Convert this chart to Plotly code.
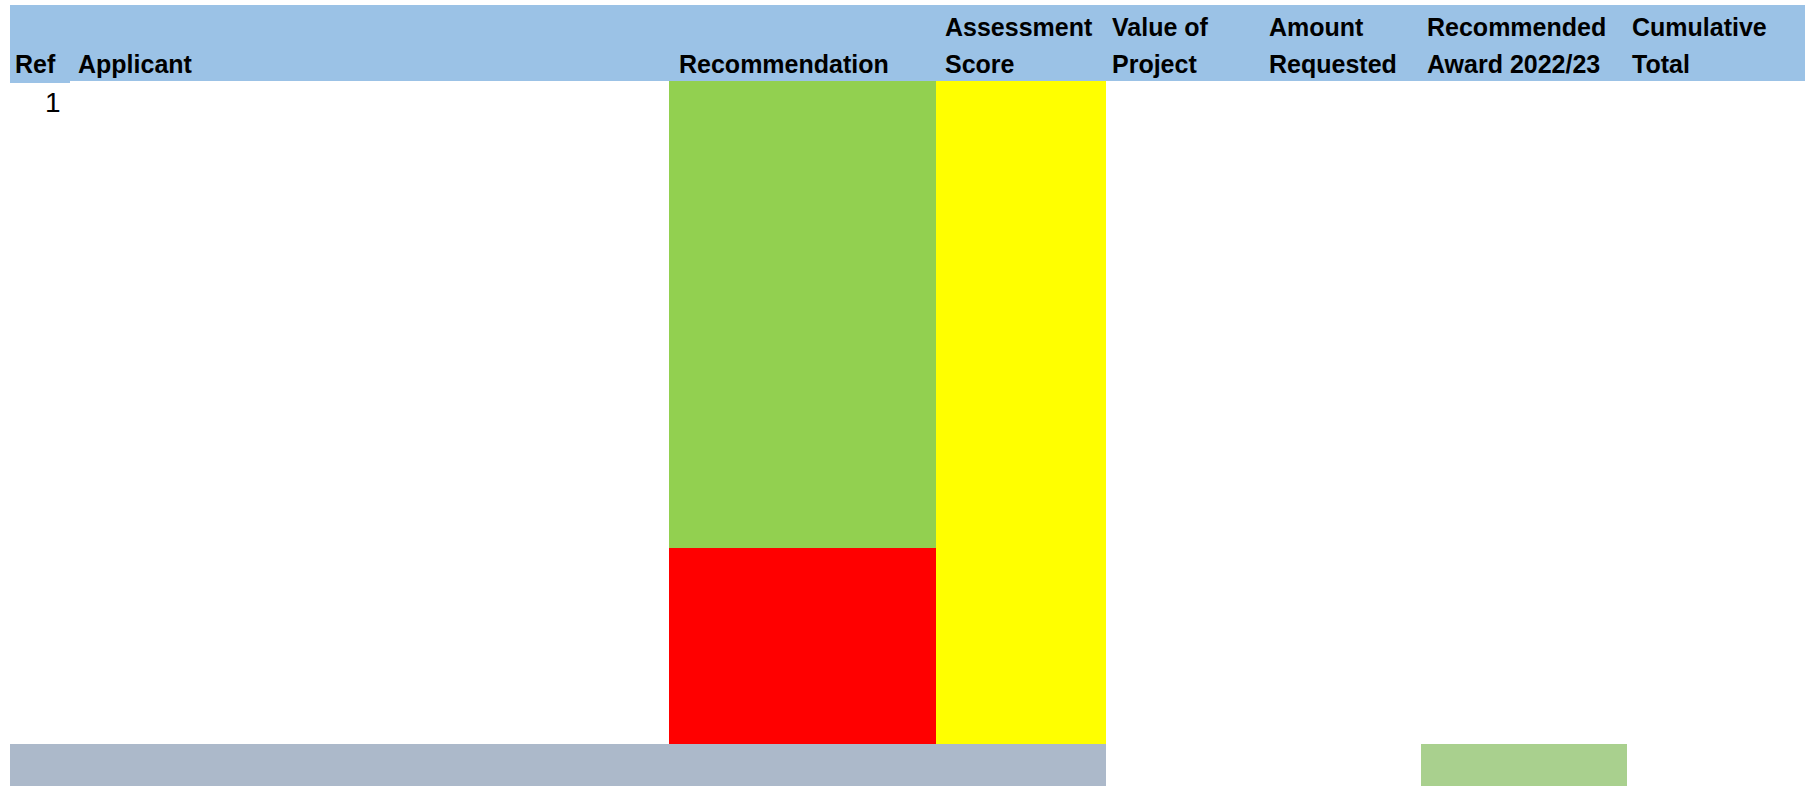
import plotly.graph_objects as go

# ---------------- data ----------------
header_line1 = ["", "", "", "Assessment", "Value of", "Amount", "Recommended", "Cumulative"]
header_line2 = ["Ref", "Applicant", "Recommendation", "Score", "Project", "Requested", "Award 2022/23", "Total"]
ref_values = ["1"]
recommendation_cells = ["Recommended", "Not recommended"]
recommendation_colors = {"Recommended": "#92D050", "Not recommended": "#FF0000"}
score_cells = ["Score"]
total_row_cells = ["Total label", "Award total"]

# ---------------- layout (pixel geometry) ----------------
W, H = 1805, 786
text_x = [14, 77, 678, 944, 1111, 1268, 1426, 1631]
col_edges = [10, 70, 669, 936, 1106, 1262, 1421, 1627, 1805]
header_top, header_bottom = 5, 81
row_edges = [81, 548, 744]           # recommendation sub-rows
total_top, total_bottom = 744, 786
base1, base2 = 36, 73
FS = 25

HEADER_BLUE = "#9BC2E6"
shapes = []
def rect(x0, x1, y0, y1, color):
    shapes.append(dict(type="rect", xref="x", yref="y", x0=x0, x1=x1, y0=y0, y1=y1,
                       fillcolor=color, line=dict(width=0), layer="below"))

# header band
rect(col_edges[0], col_edges[-1], header_top, header_bottom, HEADER_BLUE)
rect(col_edges[0], col_edges[1], header_bottom - 1, header_bottom + 2, HEADER_BLUE)

# recommendation column cells
for i, status in enumerate(recommendation_cells):
    rect(col_edges[2], col_edges[3], row_edges[i], row_edges[i + 1], recommendation_colors[status])
# score column
for s in score_cells:
    rect(col_edges[3], col_edges[4], row_edges[0], row_edges[-1], "#FFFF00")
# total row
rect(col_edges[0], col_edges[4], total_top, total_bottom, "#ACB9CA")
rect(col_edges[6], col_edges[7], total_top, total_bottom, "#A9D08E")

annotations = []
font = dict(family="Liberation Sans, Arial, sans-serif", size=FS, color="#000000")
desc = 0.23 * FS
for i in range(len(header_line2)):
    for txt, base in ((header_line1[i], base1), (header_line2[i], base2)):
        if txt:
            annotations.append(dict(x=text_x[i], y=base + desc, xref="x", yref="y",
                                    text="<b>%s</b>" % txt, showarrow=False,
                                    xanchor="left", yanchor="bottom", font=font,
                                    borderpad=0))
RFS = 28
for r in ref_values:
    annotations.append(dict(x=62, y=113 + 0.23 * RFS, xref="x", yref="y", text=r,
                            showarrow=False, xanchor="right", yanchor="bottom",
                            borderpad=0,
                            font=dict(family="Liberation Sans, Arial, sans-serif",
                                      size=RFS, color="#000000")))

fig = go.Figure()
fig.update_layout(
    width=W, height=H,
    margin=dict(l=0, r=0, t=0, b=0),
    paper_bgcolor="#FFFFFF", plot_bgcolor="#FFFFFF",
    xaxis=dict(range=[0, W], visible=False, fixedrange=True),
    yaxis=dict(range=[H, 0], visible=False, fixedrange=True),
    shapes=shapes, annotations=annotations, showlegend=False,
)
fig.write_html("out.html", config={"displayModeBar": False},
               post_script="document.body.style.margin='0';document.body.style.overflow='hidden';")
